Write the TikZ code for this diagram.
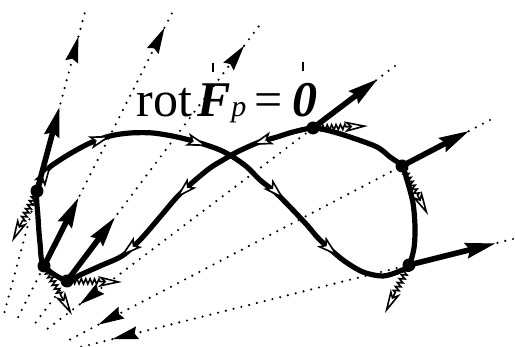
\documentclass[tikz,border=0pt]{standalone}
\usepackage{fontspec}
\setmainfont{Liberation Serif}
\usetikzlibrary{arrows.meta,calc,decorations.pathmorphing}

\begin{document}
\begin{tikzpicture}[
        x=0.5pt, y=-0.5pt,
        ray/.style={line width=1.2pt, line cap=round, dash pattern=on 0pt off 4pt},
        raytip/.style={-{Stealth[length=13pt,width=6.5pt,inset=1.5pt,line width=0.5pt]}},
        loopline/.style={line width=2.6pt, line join=round},
        flow/.style={line width=0.8pt, -{Stealth[length=11pt,width=6.5pt,inset=2.5pt,fill=white]}},
        force/.style={line width=2.8pt, -{Stealth[length=15pt,width=8pt,inset=2pt,line width=0.5pt]}},
        dl/.style={
                line width=0.8pt, decorate,
                decoration={zigzag, amplitude=1.3pt, segment length=2.2pt, post length=11pt},
                -{Stealth[length=12pt,width=5.5pt,inset=3pt,fill=white]}
            },
        dot/.style={circle, fill, inner sep=0pt, minimum size=6.5pt}
    ]
    \clip (0,0) rectangle (515,347);

    \coordinate (p1) at (37,191);
    \coordinate (p2) at (44,266);
    \coordinate (p3) at (67,281);
    \coordinate (p4) at (313,128);
    \coordinate (p5) at (402,166);
    \coordinate (p6) at (409,265);

    \coordinate (tA) at (85,12);
    \coordinate (tB) at (174,9);
    \coordinate (tC) at (262,22);
    \coordinate (tD) at (395,66);
    \coordinate (tE) at (490,120);
    \coordinate (tF) at (513,239);

    \coordinate (eA) at ($(p1)!(8,313)!(tA)$);
    \coordinate (eB) at ($(p2)!(22,319)!(tB)$);
    \coordinate (eC) at ($(p3)!(35,322)!(tC)$);
    \coordinate (eD) at ($(p4)!(47,329)!(tD)$);
    \coordinate (eE) at ($(p5)!(64,343)!(tE)$);
    \coordinate (eF) at ($(p6)!(60,355)!(tF)$);

    \coordinate (hA) at ($(p1)!(80,37)!(tA)$);
    \coordinate (hB) at ($(p2)!(167,29)!(tB)$);
    \coordinate (hC) at ($(p3)!(246,47)!(tC)$);
    \coordinate (hD) at ($(p4)!(80,305)!(tD)$);
    \coordinate (hE) at ($(p5)!(97,322)!(tE)$);
    \coordinate (hF) at ($(p6)!(113,342)!(tF)$);

    \coordinate (fA) at ($(p1)!(62,108)!(tA)$);
    \coordinate (fB) at ($(p2)!(82,200)!(tB)$);
    \coordinate (fC) at ($(p3)!(115,218)!(tC)$);
    \coordinate (fD) at ($(p4)!(377,79)!(tD)$);
    \coordinate (fE) at ($(p5)!(468,130)!(tE)$);
    \coordinate (fF) at ($(p6)!(495,243)!(tF)$);

    \coordinate (l1) at (12,242);
    \coordinate (l2) at (72,315);
    \coordinate (l3) at (122,282);
    \coordinate (l4) at (368,126);
    \coordinate (l5) at (428,215);
    \coordinate (l6) at (385,313);

    \draw[ray, raytip] (eA) -- (hA);
    \draw[ray] (hA) -- (tA);
    \draw[ray, raytip] (eB) -- (hB);
    \draw[ray] (hB) -- (tB);
    \draw[ray, raytip] (eC) -- (hC);
    \draw[ray] (hC) -- (tC);
    \draw[ray, raytip] (tD) -- (hD);
    \draw[ray] (hD) -- (eD);
    \draw[ray, raytip] (tE) -- (hE);
    \draw[ray] (hE) -- (eE);
    \draw[ray, raytip] (tF) -- (hF);
    \draw[ray] (hF) -- (eF);

    \draw[loopline] plot[smooth cycle, tension=0.5] coordinates {
            (p1) (47,170) (60,160) (73,152) (90,143) (110,136) (130,133)
            (153,133) (177,137) (200,143) (220,150) (233,157) (247,167)
            (260,180) (275,192) (290,207) (307,225) (320,240) (343,260)
            (363,272) (383,276) (400,271) (p6) (414,248) (415,227)
            (413,203) (407,180) (p5) (390,157) (377,147) (350,137)
            (330,131) (p4) (293,132) (277,137) (257,143) (237,152)
            (223,160) (210,168) (193,182) (177,197) (160,217) (140,240)
            (122,256) (100,266) (80,275) (p3) (p2) (40,243) (38,217)};

    \coordinate (w1) at (43,178);  \coordinate (v1) at (51,165);
    \coordinate (w2) at (92,142);  \coordinate (v2) at (111,136);
    \coordinate (w3) at (189,140); \coordinate (v3) at (208,146);
    \coordinate (w4) at (269,185); \coordinate (v4) at (284,199);
    \coordinate (w5) at (323,243); \coordinate (v5) at (338,256);
    \coordinate (w6) at (272,138); \coordinate (v6) at (251,145);
    \coordinate (w7) at (192,183); \coordinate (v7) at (176,198);
    \coordinate (w8) at (138,242); \coordinate (v8) at (121,256);
    \draw[flow] (w1) -- (v1);
    \draw[flow] (w2) -- (v2);
    \draw[flow] (w3) -- (v3);
    \draw[flow] (w4) -- (v4);
    \draw[flow] (w5) -- (v5);
    \draw[flow] (w6) -- (v6);
    \draw[flow] (w7) -- (v7);
    \draw[flow] (w8) -- (v8);

    \draw[force] (p1) -- (fA);
    \draw[force] (p2) -- (fB);
    \draw[force] (p3) -- (fC);
    \draw[force] (p4) -- (fD);
    \draw[force] (p5) -- (fE);
    \draw[force] (p6) -- (fF);

    \draw[dl] (p1) -- (l1);
    \draw[dl] (p2) -- (l2);
    \draw[dl] (p3) -- (l3);
    \draw[dl] (p4) -- (l4);
    \draw[dl] (p5) -- (l5);
    \draw[dl] (p6) -- (l6);

    \node[dot] (dot1) at (p1) {};
    \node[dot] (dot2) at (p2) {};
    \node[dot] (dot3) at (p3) {};
    \node[dot] (dot4) at (p4) {};
    \node[dot] (dot5) at (p5) {};
    \node[dot] (dot6) at (p6) {};

    \node[anchor=base west, inner sep=0pt] (law) at (136,117)
        {\fontsize{25pt}{28pt}\selectfont rot\hspace{3pt}\textbf{\textit{F}}{\fontsize{15pt}{16pt}\selectfont\textit{p}}\hspace{4pt}=\hspace{5pt}\textbf{\textit{0}}};
    \draw[line width=1pt] (213,63) -- (213,72);
    \draw[line width=1pt] (303,62) -- (303,71);
\end{tikzpicture}
\end{document}
